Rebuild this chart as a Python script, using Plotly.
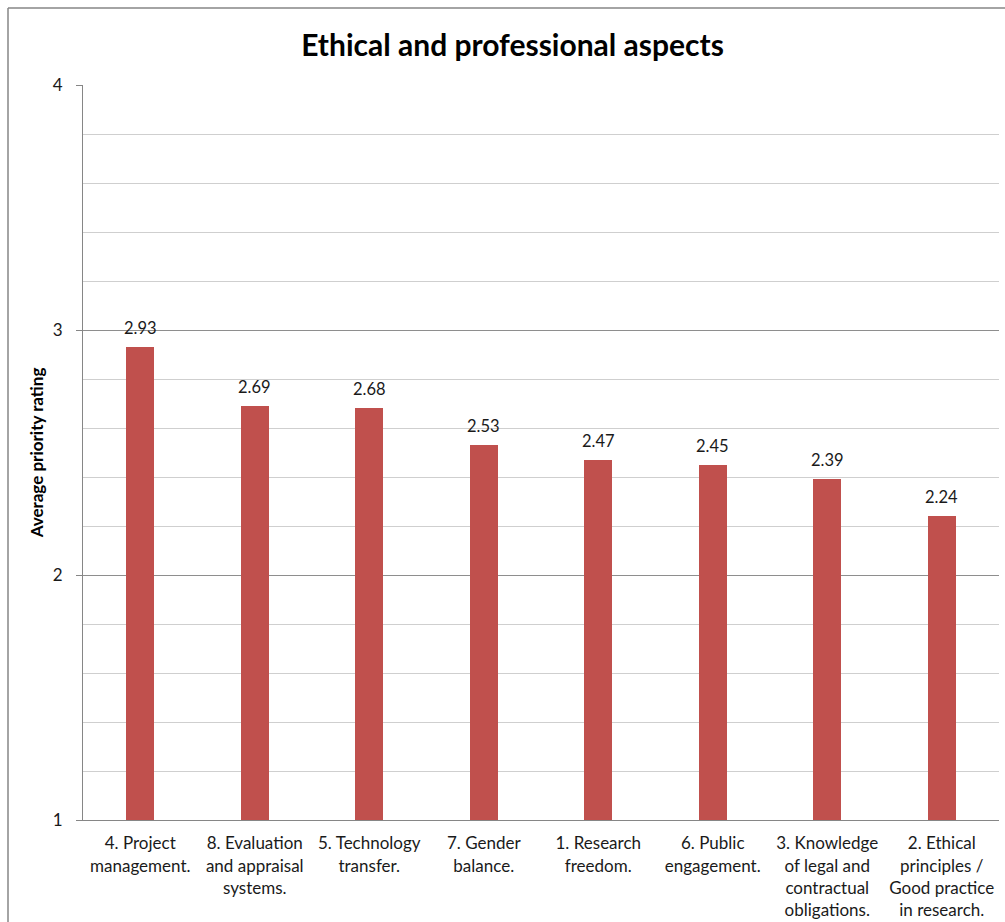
import plotly.graph_objects as go

# Priority ratings for the ethical / professional aspects, highest first
categories = [
    "4. Project<br>management.",
    "8. Evaluation<br>and appraisal<br>systems.",
    "5. Technology<br>transfer.",
    "7. Gender<br>balance.",
    "1. Research<br>freedom.",
    "6. Public<br>engagement.",
    "3. Knowledge<br>of legal and<br>contractual<br>obligations.",
    "2. Ethical<br>principles /<br>Good practice<br>in research.",
]
ratings = [2.93, 2.69, 2.68, 2.53, 2.47, 2.45, 2.39, 2.24]
y_ticks = [1, 2, 3, 4]

BAR_COLOR = "#C0504D"
FONT = "Lato"
TEXT = "#1a1a1a"

W, H = 1005, 922
ML, MR, MT, MB = 83, 6, 85, 102
PW, PH = W - ML - MR, H - MT - MB
AXIS_MIN = y_ticks[0]

fig = go.Figure(
    go.Bar(
        x=categories,
        y=[v - AXIS_MIN for v in ratings],
        base=AXIS_MIN,
        width=0.245,
        marker=dict(color=BAR_COLOR, line=dict(width=0)),
        customdata=ratings,
        hovertemplate="%{x}: %{customdata:.2f}<extra></extra>",
    )
)

# value labels above each bar
for cat, val in zip(categories, ratings):
    fig.add_annotation(
        x=cat, y=val, text=f"{val:.2f}", showarrow=False,
        yanchor="bottom", yshift=7,
        font=dict(family=FONT, size=16.5, color=TEXT),
    )

# outer chart border (top and left edges visible in the frame)
def px_x(px):
    return (px - ML) / PW

def px_y(py):
    return (H - MB - py) / PH

fig.add_shape(type="line", xref="paper", yref="paper",
              x0=px_x(8), x1=px_x(1012), y0=px_y(8), y1=px_y(8),
              line=dict(color="#868686", width=1.5))
fig.add_shape(type="line", xref="paper", yref="paper",
              x0=px_x(8), x1=px_x(8), y0=px_y(8), y1=px_y(930),
              line=dict(color="#868686", width=1.5))

fig.update_layout(
    width=W, height=H,
    margin=dict(l=ML, r=MR, t=MT, b=MB, pad=0),
    paper_bgcolor="white", plot_bgcolor="white",
    showlegend=False,
    bargap=0,
    title=dict(
        text="<b>Ethical and professional aspects</b>",
        x=0.51, xanchor="center", y=1 - 45 / H, yanchor="middle",
        font=dict(family=FONT, size=30, color="black"),
    ),
    font=dict(family=FONT, size=17, color=TEXT),
)

fig.update_xaxes(
    showgrid=False, showline=True, linecolor="#868686", linewidth=1,
    ticks="", tickfont=dict(family=FONT, size=17, color=TEXT),
    ticklabelstandoff=8, automargin=False, fixedrange=True,
)
fig.update_yaxes(
    range=[1, 4], tickvals=y_ticks, ticktext=[str(t) for t in y_ticks],
    showline=True, linecolor="#868686", linewidth=1,
    showgrid=True, gridcolor="#8E8E8E", gridwidth=1,
    minor=dict(dtick=0.2, showgrid=True, gridcolor="#CFCFCF", gridwidth=1, ticks=""),
    ticks="outside", ticklen=6, tickcolor="#868686",
    tickfont=dict(family=FONT, size=17, color=TEXT),
    ticklabelstandoff=10,
    title=dict(text="<b>Average priority rating</b>", standoff=4,
               font=dict(family=FONT, size=17, color="black")),
    zeroline=False, automargin=False, fixedrange=True,
)

fig.write_html("out.html")
